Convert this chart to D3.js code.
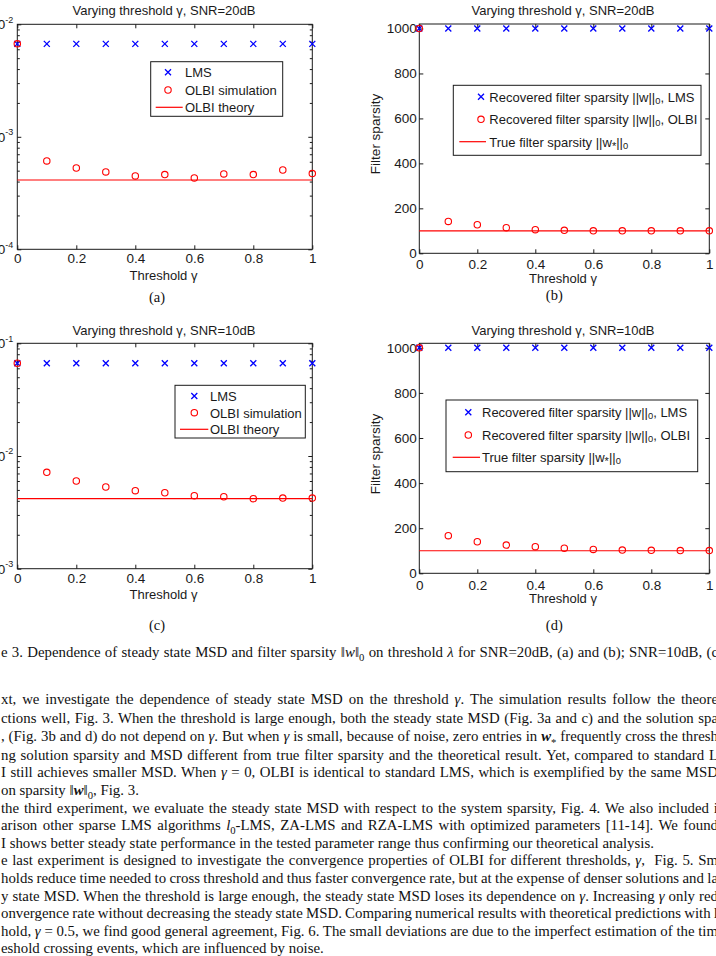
<!DOCTYPE html>
<html><head><meta charset="utf-8">
<script src="https://cdn.jsdelivr.net/npm/d3@7/dist/d3.min.js"></script>
<style>
html,body{margin:0;padding:0;background:#fff;overflow:hidden}
svg{display:block}
</style></head><body>
<svg id="c" width="716" height="956"></svg>
<script>
// ---------------- DATA ----------------
const gammaVals = [0, 0.1, 0.2, 0.3, 0.4, 0.5, 0.6, 0.7, 0.8, 0.9, 1.0];
const xTickVals = [0, 0.2, 0.4, 0.6, 0.8, 1];
const xTickLabels = ["0", "0.2", "0.4", "0.6", "0.8", "1"];

// (a) MSD, SNR=20dB
const msd20LMS = [6.7e-3, 6.7e-3, 6.7e-3, 6.7e-3, 6.7e-3, 6.7e-3, 6.7e-3, 6.7e-3, 6.7e-3, 6.7e-3, 6.7e-3];
const msd20OLBI = [6.7e-3, 6.1e-4, 5.28e-4, 4.87e-4, 4.49e-4, 4.62e-4, 4.31e-4, 4.68e-4, 4.62e-4, 5.07e-4, 4.71e-4];
const msd20Theory = [4.13e-4, 4.13e-4];
const msd20Exponents = [-4, -3, -2];

// (c) MSD, SNR=10dB
const msd10LMS = [0.0665, 0.0665, 0.0665, 0.0665, 0.0665, 0.0665, 0.0665, 0.0665, 0.0665, 0.0665, 0.0665];
const msd10OLBI = [0.0665, 7.17e-3, 6.0e-3, 5.31e-3, 4.92e-3, 4.72e-3, 4.45e-3, 4.35e-3, 4.18e-3, 4.23e-3, 4.23e-3];
const msd10Theory = [4.18e-3, 4.18e-3];
const msd10Exponents = [-3, -2, -1];

// (b) sparsity, SNR=20dB
const sp20LMS = [1000, 1000, 1000, 1000, 1000, 1000, 1000, 1000, 1000, 1000, 1000];
const sp20OLBI = [1000, 142, 127, 114, 105, 102, 100, 100, 100, 100, 100];
// (d) sparsity, SNR=10dB
const sp10LMS = [1000, 1000, 1000, 1000, 1000, 1000, 1000, 1000, 1000, 1000, 1000];
const sp10OLBI = [1000, 167, 140, 125, 118, 111, 106, 103, 102, 101, 101];
const trueSparsity = [100, 100];
const sparsityTicks = [0, 200, 400, 600, 800, 1000];

const titles = ["Varying threshold \u03b3, SNR=20dB", "Varying threshold \u03b3, SNR=20dB",
                "Varying threshold \u03b3, SNR=10dB", "Varying threshold \u03b3, SNR=10dB"];
const xLabel = "Threshold \u03b3";
const yLabelSparsity = "Filter sparsity";
const legendMSD = [[["LMS", "n"]], [["OLBI simulation", "n"]], [["OLBI theory", "n"]]];
const legendSparsity = [
  [["Recovered filter sparsity ||w||", "n"], ["0", "sub"], [", LMS", "n"]],
  [["Recovered filter sparsity ||w||", "n"], ["0", "sub"], [", OLBI", "n"]],
  [["True filter sparsity ||w", "n"], ["*", "subL"], ["||", "n"], ["0", "sub"]]
];

// ---------------- TEXT ----------------
const captionSegs = [["e 3. Dependence of steady state MSD and filter sparsity ", "n"], ["\u2016", "n"], ["w", "i"], ["\u2016", "n"], ["0", "sub"],
  [" on threshold ", "n"], ["\u03bb", "i"], [" for SNR=20dB, (a) and (b); SNR=10dB, (c", "n"]];
const paraLines = [
  [["xt, we investigate the dependence of steady state MSD on the threshold ", "n"], ["\u03b3", "i"], [". The simulation results follow the theore", "n"]],
  [["ctions well, Fig. 3. When the threshold is large enough, both the steady state MSD (Fig. 3a and c) and the solution spa", "n"]],
  [[", (Fig. 3b and d) do not depend on ", "n"], ["\u03b3", "i"], [". But when ", "n"], ["\u03b3", "i"], [" is small, because of noise, zero entries in ", "n"], ["w", "bi"], ["*", "sub"], [" frequently cross the thresh", "n"]],
  [["ng solution sparsity and MSD different from true filter sparsity and the theoretical result. Yet, compared to standard L", "n"]],
  [["I still achieves smaller MSD. When ", "n"], ["\u03b3", "i"], [" = 0", "n"], [", OLBI is identical to standard LMS, which is exemplified by the same MSD", "n"]],
  [["on sparsity ", "n"], ["\u2016", "n"], ["w", "bi"], ["\u2016", "n"], ["0", "sub"], [", Fig. 3.", "n"]],
  [["the third experiment, we evaluate the steady state MSD with respect to the system sparsity, Fig. 4. We also included i", "n"]],
  [["arison other sparse LMS algorithms ", "n"], ["l", "i"], ["0", "sub"], ["-LMS, ZA-LMS and RZA-LMS with optimized parameters [11-14]. We found", "n"]],
  [["I shows better steady state performance in the tested parameter range thus confirming our theoretical analysis.", "n"]],
  [["e last experiment is designed to investigate the convergence properties of OLBI for different thresholds, ", "n"], ["\u03b3", "i"], [",  Fig. 5. Sm", "n"]],
  [["holds reduce time needed to cross threshold and thus faster convergence rate, but at the expense of denser solutions and la", "n"]],
  [["y state MSD. When the threshold is large enough, the steady state MSD loses its dependence on ", "n"], ["\u03b3", "i"], [". Increasing ", "n"], ["\u03b3", "i"], [" only red", "n"]],
  [["onvergence rate without decreasing the steady state MSD. Comparing numerical results with theoretical predictions with l", "n"]],
  [["hold, ", "n"], ["\u03b3", "i"], [" = 0.5", "n"], [", we find good general agreement, Fig. 6. The small deviations are due to the imperfect estimation of the tim", "n"]],
  [["eshold crossing events, which are influenced by noise.", "n"]]
];
const paraJustified = [true, true, true, true, true, false, true, true, false, true, true, true, true, true, false];

// ---------------- LAYOUT ----------------
const SANS = "'Liberation Sans', Arial, Helvetica, sans-serif";
const SERIF = "'Liberation Serif', 'Times New Roman', serif";
const INK = "#1a1a1a";
const TICK_FS = 13.5;
const svg = d3.select("#c");

const panels = [
  {x0: 17.3, x1: 312.3, y0: 24.3, y1: 249.3, log: true, yDomain: [1e-4, 1e-2], exps: msd20Exponents,
   lms: msd20LMS, olbi: msd20OLBI, line: msd20Theory, title: titles[0], titleX: 164, titleY: 10,
   tickPad: 4.0, xlabX: 163.5, xlabY: 275, tag: "(a)", tagX: 157, tagY: 297, legendItems: legendMSD,
   lg: {x0: 150.7, x1: 282.7, y0: 61.7, y1: 116.3, rows: [72.3, 90, 107.3], mx: 168, tx: 185, lx0: 155.7, lx1: 182.7}},
  {x0: 419.3, x1: 709.3, y0: 24, y1: 253.3, log: false, yDomain: [0, 1020], ticks: sparsityTicks,
   lms: sp20LMS, olbi: sp20OLBI, line: trueSparsity, title: titles[1], titleX: 563, titleY: 10,
   tickPad: 6.0, xlabX: 563, xlabY: 278.3, ylabX: 375.5, ylabY: 134, tag: "(b)", tagX: 554.3, tagY: 295, legendItems: legendSparsity,
   lg: {x0: 453.3, x1: 701, y0: 85.3, y1: 155.3, rows: [96.7, 119.3, 141.7], mx: 481, tx: 489.3, lx0: 459.3, lx1: 486}},
  {x0: 17.3, x1: 312.3, y0: 343.3, y1: 568.7, log: true, yDomain: [1e-3, 1e-1], exps: msd10Exponents,
   lms: msd10LMS, olbi: msd10OLBI, line: msd10Theory, title: titles[2], titleX: 164, titleY: 330,
   tickPad: 4.6, xlabX: 163.5, xlabY: 594, tag: "(c)", tagX: 157, tagY: 624.5, legendItems: legendMSD,
   lg: {x0: 175, x1: 305.3, y0: 385.3, y1: 438, rows: [396, 412.7, 429.3], mx: 194.3, tx: 210, lx0: 180, lx1: 208.3}},
  {x0: 419.3, x1: 709.3, y0: 343.3, y1: 573.3, log: false, yDomain: [0, 1020], ticks: sparsityTicks,
   lms: sp10LMS, olbi: sp10OLBI, line: trueSparsity, title: titles[3], titleX: 563, titleY: 330,
   tickPad: 6.7, xlabX: 563, xlabY: 598.3, ylabX: 375.5, ylabY: 454, tag: "(d)", tagX: 554.3, tagY: 625, legendItems: legendSparsity,
   lg: {x0: 446, x1: 697.7, y0: 400, y1: 471.7, rows: [412.3, 435, 457.3], mx: 468.3, tx: 482, lx0: 452.7, lx1: 480}}
];

const xMarkPath = "M-3,-3L3,3M-3,3L3,-3";

function styleAxis(g) {
  g.attr("font-family", SANS).attr("font-size", TICK_FS);
  g.selectAll("line").attr("stroke", INK).attr("stroke-width", 1);
  g.selectAll("path.domain").remove();
  g.selectAll("text").attr("fill", INK);
}

function richText(t, segs, fs) {
  let shift = 0;
  segs.forEach(([s, st]) => {
    const sp = t.append("tspan").text(s);
    let target = 0;
    if (st === "sub") { sp.attr("font-size", fs * 0.72); target = fs * 0.3; }
    if (st === "subL") { sp.attr("font-size", fs * 0.85); target = fs * 0.3; }
    if (st === "i") sp.attr("font-style", "italic");
    if (st === "bi") sp.attr("font-style", "italic").attr("font-weight", "bold");
    const d = target - shift;
    if (Math.abs(d) > 1e-6) sp.attr("dy", d);
    shift = target;
  });
}

function drawPanel(p) {
  const g = svg.append("g");
  const x = d3.scaleLinear().domain([0, 1]).range([p.x0, p.x1]);
  const y = (p.log ? d3.scaleLog() : d3.scaleLinear()).domain(p.yDomain).range([p.y1, p.y0]);

  const bx = g.append("g").attr("transform", `translate(0,${p.y1})`)
    .call(d3.axisBottom(x).tickValues(xTickVals).tickFormat((d, i) => xTickLabels[i]).tickSizeInner(-4).tickSizeOuter(0).tickPadding(p.tickPad));
  styleAxis(bx);
  const tx = g.append("g").attr("transform", `translate(0,${p.y0})`)
    .call(d3.axisTop(x).tickValues(xTickVals).tickFormat("").tickSizeInner(-4).tickSizeOuter(0));
  styleAxis(tx);

  const yMajor = p.log ? p.exps.map(e => Math.pow(10, e)) : p.ticks;
  const ly = g.append("g").attr("transform", `translate(${p.x0},0)`)
    .call(d3.axisLeft(y).tickValues(yMajor).tickFormat((d, i) => p.log ? "" : String(p.ticks[i])).tickSizeInner(-4).tickSizeOuter(0).tickPadding(p.log ? 4 : 2.6));
  styleAxis(ly);
  const ry = g.append("g").attr("transform", `translate(${p.x1},0)`)
    .call(d3.axisRight(y).tickValues(yMajor).tickFormat("").tickSizeInner(-4).tickSizeOuter(0));
  styleAxis(ry);

  if (p.log) {
    ly.selectAll(".tick text").each(function (d, i) {
      const t = d3.select(this);
      t.text(null);
      t.append("tspan").text("10");
      t.append("tspan").text(String(p.exps[i])).attr("font-size", 9).attr("dy", -6.5);
    });
    const minors = [];
    for (let e = p.exps[0]; e < p.exps[p.exps.length - 1]; e++)
      for (let k = 2; k <= 9; k++) minors.push(k * Math.pow(10, e));
    const ml = g.append("g").attr("transform", `translate(${p.x0},0)`)
      .call(d3.axisLeft(y).tickValues(minors).tickFormat("").tickSizeInner(-2.5).tickSizeOuter(0));
    styleAxis(ml);
    const mr = g.append("g").attr("transform", `translate(${p.x1},0)`)
      .call(d3.axisRight(y).tickValues(minors).tickFormat("").tickSizeInner(-2.5).tickSizeOuter(0));
    styleAxis(mr);
  }

  g.append("rect").attr("x", p.x0).attr("y", p.y0).attr("width", p.x1 - p.x0).attr("height", p.y1 - p.y0)
    .attr("fill", "none").attr("stroke", INK).attr("stroke-width", 1);

  g.append("path").datum(p.line)
    .attr("d", d3.line().x((d, i) => x(i === 0 ? 0 : 1)).y(d => y(d)))
    .attr("fill", "none").attr("stroke", "#ff0000").attr("stroke-width", 1.2);

  g.selectAll(".lms").data(p.lms).join("path")
    .attr("transform", (d, i) => `translate(${x(gammaVals[i])},${y(d)})`)
    .attr("d", xMarkPath).attr("stroke", "#0000ff").attr("stroke-width", 1.3).attr("fill", "none");
  g.selectAll(".olbi").data(p.olbi).join("circle")
    .attr("cx", (d, i) => x(gammaVals[i])).attr("cy", d => y(d)).attr("r", 3.2)
    .attr("fill", "none").attr("stroke", "#ff0000").attr("stroke-width", 1.1);

  g.append("text").attr("x", p.titleX).attr("y", p.titleY).attr("text-anchor", "middle").attr("dominant-baseline", "central")
    .attr("font-family", SANS).attr("font-size", 13).attr("fill", INK).text(p.title);
  g.append("text").attr("x", p.xlabX).attr("y", p.xlabY).attr("text-anchor", "middle").attr("dominant-baseline", "central")
    .attr("font-family", SANS).attr("font-size", 13).attr("fill", INK).text(xLabel);
  if (!p.log) {
    g.append("text").attr("transform", `translate(${p.ylabX},${p.ylabY}) rotate(-90)`).attr("text-anchor", "middle")
      .attr("dominant-baseline", "central").attr("font-family", SANS).attr("font-size", 13.5).attr("fill", INK).text(yLabelSparsity);
  }
  g.append("text").attr("x", p.tagX).attr("y", p.tagY).attr("text-anchor", "middle").attr("dominant-baseline", "central")
    .attr("font-family", SERIF).attr("font-size", 14.5).attr("fill", "#111").text(p.tag);

  const L = p.lg;
  const lg = g.append("g");
  lg.append("rect").attr("x", L.x0).attr("y", L.y0).attr("width", L.x1 - L.x0).attr("height", L.y1 - L.y0)
    .attr("fill", "#fff").attr("stroke", INK).attr("stroke-width", 1);
  lg.append("path").attr("transform", `translate(${L.mx},${L.rows[0]})`).attr("d", xMarkPath)
    .attr("stroke", "#0000ff").attr("stroke-width", 1.3).attr("fill", "none");
  lg.append("circle").attr("cx", L.mx).attr("cy", L.rows[1]).attr("r", 3.2)
    .attr("fill", "none").attr("stroke", "#ff0000").attr("stroke-width", 1.1);
  lg.append("line").attr("x1", L.lx0).attr("x2", L.lx1).attr("y1", L.rows[2]).attr("y2", L.rows[2])
    .attr("stroke", "#ff0000").attr("stroke-width", 1.2);
  p.legendItems.forEach((segs, i) => {
    const t = lg.append("text").attr("x", L.tx).attr("y", L.rows[i]).attr("dominant-baseline", "central")
      .attr("font-family", SANS).attr("font-size", 13).attr("fill", INK);
    richText(t, segs, 13);
  });
}

panels.forEach(drawPanel);

// ---------------- PARAGRAPH TEXT ----------------
const tg = svg.append("g").attr("font-family", SERIF).attr("fill", "#111");
const lineCenters = [700, 719, 737.3, 755.8, 773.3, 791, 808.5, 826, 843.5, 861, 878.5, 896.5, 914.2, 931.7, 948.5];
const PFS = 14.6;

function makeLine(segs, yb) {
  const t = tg.append("text").attr("x", 0).attr("y", 0).attr("font-size", PFS).style("white-space", "pre")
    .attr("transform", `translate(1,${yb})`);
  richText(t, segs, PFS);
  return t;
}
// horizontal compression calibrated from the natural-width last line of paragraph 2
const probe = makeLine(paraLines[8], -100);
const w9 = probe.node().getComputedTextLength();
probe.remove();
let sx = 653 / w9;
if (!isFinite(sx) || sx < 0.75 || sx > 1.2) sx = 1;

function place(t, segs, yb, width) {
  t.attr("transform", `translate(1,${yb}) scale(${sx},1)`);
  if (width) {
    const nat = t.node().getComputedTextLength() * sx;
    const spaces = segs.map(s => s[0]).join("").split(" ").length - 1;
    if (spaces > 0) t.style("word-spacing", ((width - nat) / spaces / sx) + "px");
  }
}

const cap = makeLine(captionSegs, 656.7);
place(cap, captionSegs, 656.7, 717);

paraLines.forEach((segs, i) => {
  const yb = lineCenters[i] + 4;
  const t = makeLine(segs, yb);
  place(t, segs, yb, paraJustified[i] ? 717 : 0);
});
</script>
</body></html>
